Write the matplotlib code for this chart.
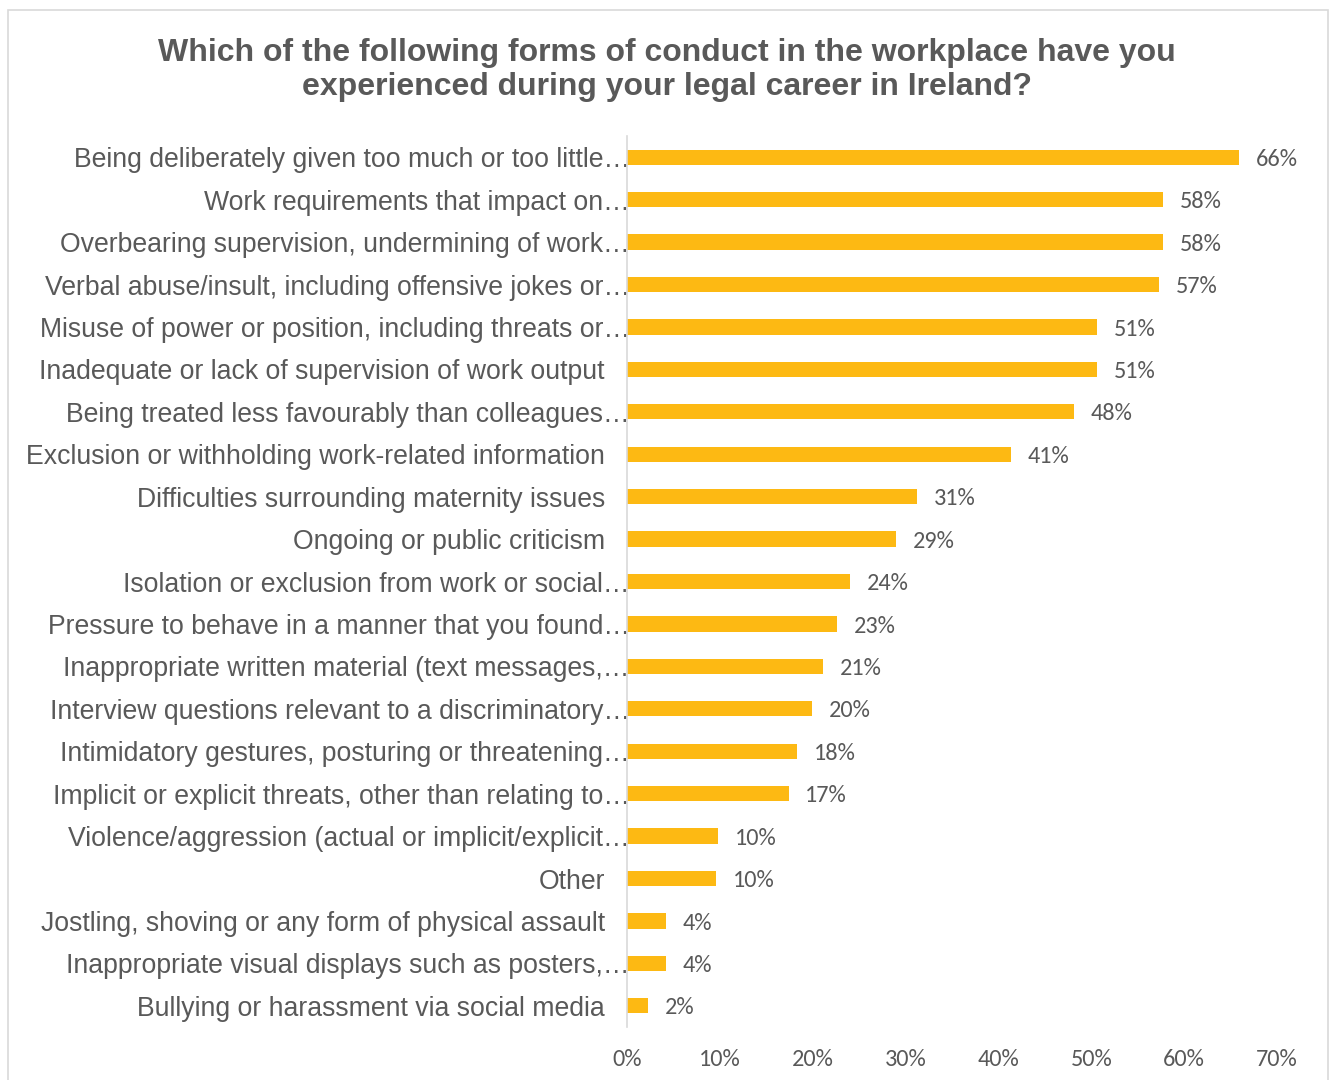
import matplotlib.pyplot as plt
from matplotlib.patches import Rectangle
from matplotlib.transforms import ScaledTranslation

# Survey answers, listed top to bottom
categories = [
    "Being deliberately given too much or too little…",
    "Work requirements that impact on…",
    "Overbearing supervision, undermining of work…",
    "Verbal abuse/insult, including offensive jokes or…",
    "Misuse of power or position, including threats or…",
    "Inadequate or lack of supervision of work output",
    "Being treated less favourably than colleagues…",
    "Exclusion or withholding work-related information",
    "Difficulties surrounding maternity issues",
    "Ongoing or public criticism",
    "Isolation or exclusion from work or social…",
    "Pressure to behave in a manner that you found…",
    "Inappropriate written material (text messages,…",
    "Interview questions relevant to a discriminatory…",
    "Intimidatory gestures, posturing or threatening…",
    "Implicit or explicit threats, other than relating to…",
    "Violence/aggression (actual or implicit/explicit…",
    "Other",
    "Jostling, shoving or any form of physical assault",
    "Inappropriate visual displays such as posters,…",
    "Bullying or harassment via social media",
]
percent = [65.9, 57.7, 57.7, 57.3, 50.6, 50.6, 48.1, 41.4, 31.2, 29.0, 24.0,
           22.6, 21.1, 19.9, 18.3, 17.4, 9.8, 9.6, 4.2, 4.2, 2.3]
xticks = [0, 10, 20, 30, 40, 50, 60, 70]

bar_color = "#FDB913"
text_color = "#595959"
arial = ["Liberation Sans", "DejaVu Sans"]
calibri = ["Carlito", "Liberation Sans Narrow", "Open Sans", "DejaVu Sans"]

fig = plt.figure(figsize=(13.33, 10.8), dpi=100)
fig.patches.append(Rectangle((8 / 1333, -0.01), 1320 / 1333, 1 - 10 / 1080 + 0.01,
                             transform=fig.transFigure, fill=False,
                             edgecolor="#D9D9D9", linewidth=1.2))

ax = fig.add_axes([627 / 1333, 53 / 1080, 650 / 1333, 891 / 1080])
ypos = list(range(len(categories)))
ax.barh(ypos, percent, height=0.36, color=bar_color)
ax.set_ylim(len(categories) - 0.5, -0.5)
ax.set_xlim(0, 70)

for y, v in zip(ypos, percent):
    ax.annotate(f"{round(v)}%", (v, y), xytext=(12, -1.5), textcoords="offset points",
                va="center", ha="left", fontsize=17.5, color=text_color, family=calibri)

ax.set_yticks(ypos)
ax.set_yticklabels(categories, fontsize=19.2, color=text_color, family=arial)
ax.tick_params(axis="y", length=0, pad=-2)
# labels that fit are set back from the axis, truncated ones run up to it
shift = ScaledTranslation(-25 / 100, 0, fig.dpi_scale_trans)
for lab in ax.get_yticklabels():
    if not lab.get_text().endswith("…"):
        lab.set_transform(lab.get_transform() + shift)

ax.set_xticks(xticks)
ax.set_xticklabels([f"{t}%" for t in xticks], fontsize=17.5, color=text_color, family=calibri)
ax.tick_params(axis="x", length=0, pad=16)

for side in ("top", "right", "bottom"):
    ax.spines[side].set_visible(False)
ax.spines["left"].set_color("#D9D9D9")
ax.spines["left"].set_linewidth(1.2)

fig.text(667 / 1333, 1 - 70 / 1080,
         "Which of the following forms of conduct in the workplace have you\n"
         "experienced during your legal career in Ireland?",
         ha="center", va="center", fontsize=23, fontweight="bold",
         color=text_color, family=arial, linespacing=1.2)

fig.savefig("out.png", dpi=100)
